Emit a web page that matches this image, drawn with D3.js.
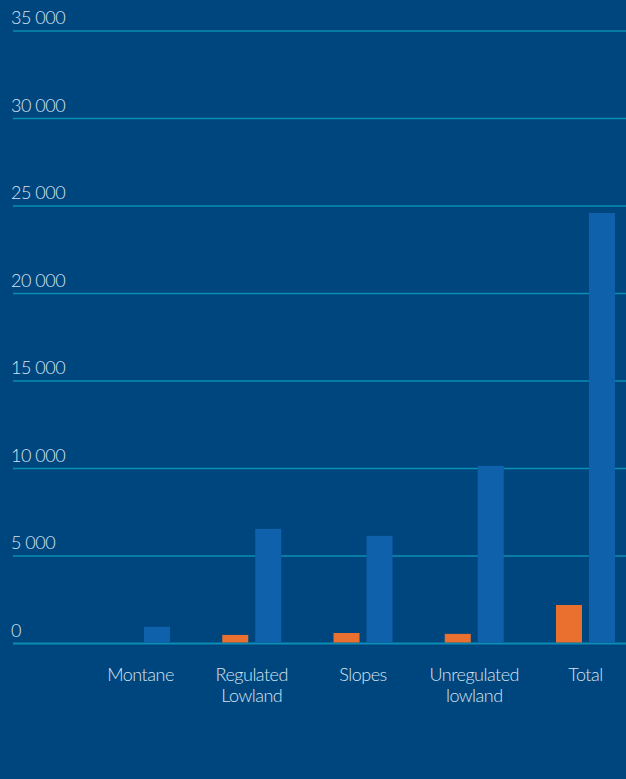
<!DOCTYPE html>
<html>
<head>
<meta charset="utf-8">
<script src="https://cdn.jsdelivr.net/npm/d3@7"></script>
<style>
  html, body { margin: 0; padding: 0; background: #00467e; }
  svg { display: block; }
</style>
</head>
<body>
<div id="root"></div>
<script>
    // chart data
    let categories = [['Montane'], ['Regulated', 'Lowland'], ['Slopes'], ['Unregulated', 'lowland'], ['Total']],
        seriesKeys = ['orange', 'blue'],
        orangeValues = [0, 490, 600, 550, 2200],
        blueValues = [950, 6550, 6150, 10150, 24600],
        yTicks = [0, 5000, 10000, 15000, 20000, 25000, 30000, 35000];

    let width = 626,
        height = 779,
        bgColor = '#00467e',
        gridColor = '#0b8db5',
        textColor = '#d5e3ef',
        barColors = { orange: '#e9702f', blue: '#0f61ac' };

    let svg = d3.select('#root').append('svg')
        .attr('width', width)
        .attr('height', height);

    svg.append('rect')
        .attr('width', width)
        .attr('height', height)
        .attr('fill', bgColor);

    let y = d3.scaleLinear().domain([0, 35000]).range([643.5, 31]);

    let catNames = categories.map(c => c.join(' '));
    let x = d3.scalePoint().domain(catNames).range([140.5, 585.5]);
    let xInner = d3.scaleBand().domain(seriesKeys).range([-29.5, 29.5]).paddingInner(0.212);

    let fmt = v => d3.format(',')(v).replace(/,/g, ' ');

    // gridlines + labels
    let grid = svg.append('g').attr('class', 'grid');
    grid.selectAll('line')
        .data(yTicks)
        .enter()
        .append('line')
        .attr('x1', 13)
        .attr('x2', width)
        .attr('y1', d => y(d))
        .attr('y2', d => y(d))
        .attr('stroke', gridColor)
        .attr('stroke-width', d => d === 0 ? 2 : 1.5);

    grid.selectAll('text')
        .data(yTicks)
        .enter()
        .append('text')
        .attr('x', 11)
        .attr('y', d => y(d) - 7)
        .attr('fill', textColor)
        .style('font-family', 'Lato, sans-serif')
        .style('font-weight', 300)
        .style('font-size', '18px')
        .style('letter-spacing', '-0.5px')
        .text(d => fmt(d));

    // bars
    let rows = catNames.map((name, i) => ({ name, orange: orangeValues[i], blue: blueValues[i] }));

    svg.append('g')
        .selectAll('g')
        .data(rows)
        .enter()
        .append('g')
        .attr('transform', d => 'translate(' + x(d.name) + ',0)')
        .selectAll('rect')
        .data(d => seriesKeys.map(k => ({ key: k, value: d[k] })).filter(e => e.value > 0))
        .enter()
        .append('rect')
        .attr('x', d => xInner(d.key))
        .attr('width', xInner.bandwidth())
        .attr('y', d => y(d.value))
        .attr('height', d => y(0) - y(d.value) - 1)
        .attr('fill', d => barColors[d.key]);

    // category labels
    let labels = svg.append('g')
        .selectAll('text')
        .data(categories)
        .enter()
        .append('text')
        .attr('x', (d, i) => x(catNames[i]))
        .attr('y', 681)
        .attr('text-anchor', 'middle')
        .attr('fill', textColor)
        .style('font-family', 'Lato, sans-serif')
        .style('font-weight', 300)
        .style('font-size', '18px')
        .style('letter-spacing', '-0.5px');

    labels.selectAll('tspan')
        .data(d => d)
        .enter()
        .append('tspan')
        .attr('x', function () { return d3.select(this.parentNode).attr('x'); })
        .attr('dy', (d, i) => i === 0 ? 0 : 21)
        .text(d => d);
</script>
</body>
</html>
